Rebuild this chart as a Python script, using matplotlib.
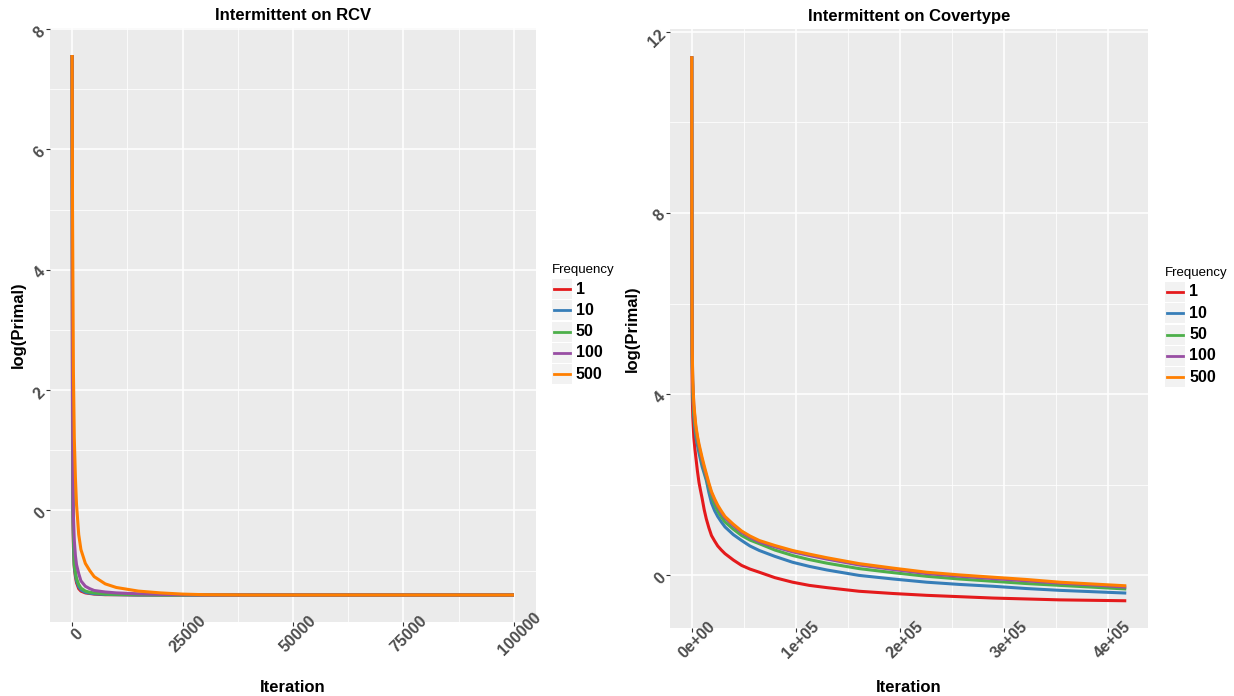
import matplotlib
matplotlib.use("Agg")
import matplotlib.pyplot as plt
from matplotlib.patches import Rectangle
from matplotlib.lines import Line2D
import numpy as np

plt.rcParams['font.family'] = ['Liberation Sans', 'DejaVu Sans']

W, H = 1234, 696

freqs = ['1', '10', '50', '100', '500']
colors = ['#E41A1C', '#377EB8', '#4DAF4A', '#984EA3', '#FF7F00']

# ---- RCV panel ----
rcv_iter = [0, 100, 200, 300, 500, 750, 1000, 1500, 2000, 3000, 4000, 5000,
            7500, 10000, 15000, 20000, 25000, 30000, 40000, 50000, 75000, 100000]
rcv_f1 = [7.57, 1.0, -0.2, -0.6, -0.95, -1.1, -1.2, -1.3, -1.34, -1.37, -1.38, -1.39,
          -1.40, -1.40, -1.405, -1.405, -1.405, -1.405, -1.405, -1.405, -1.405, -1.405]
rcv_f10 = [7.57, 1.3, 0.0, -0.5, -0.92, -1.07, -1.17, -1.27, -1.32, -1.36, -1.375, -1.385,
           -1.395, -1.40, -1.405, -1.405, -1.405, -1.405, -1.405, -1.405, -1.405, -1.405]
rcv_f50 = [7.57, 1.5, 0.15, -0.4, -0.9, -1.03, -1.13, -1.23, -1.29, -1.34, -1.36, -1.37,
           -1.39, -1.395, -1.40, -1.405, -1.405, -1.405, -1.405, -1.405, -1.405, -1.405]
rcv_f100 = [7.57, 1.8, 0.3, -0.1, -0.5, -0.75, -0.9, -1.05, -1.17, -1.26, -1.30, -1.33,
            -1.355, -1.37, -1.385, -1.395, -1.40, -1.405, -1.405, -1.405, -1.405, -1.405]
rcv_f500 = [7.57, 5.0, 3.6, 2.3, 1.2, 0.55, 0.1, -0.4, -0.65, -0.88, -1.0, -1.1,
            -1.22, -1.28, -1.34, -1.37, -1.39, -1.40, -1.405, -1.405, -1.405, -1.405]

# ---- Covertype panel ----
cov_iter = [0, 100, 250, 500, 1000, 2000, 3000, 4000, 5500, 7000, 8500, 10000, 12000,
            14000, 16500, 19000, 22000, 25000, 28500, 32000, 40000, 48000, 56000, 65000,
            80000, 97000, 113000, 130000, 161000, 194000, 226000, 258000, 290000, 322000,
            354000, 386000, 418000]
cov_f1 = [11.46, 7.5, 5.0, 4.0, 3.5, 3.05, 2.8, 2.6, 2.3, 2.05, 1.87, 1.7, 1.45,
          1.25, 1.05, 0.88, 0.76, 0.65, 0.56, 0.48, 0.34, 0.22, 0.14, 0.07,
          -0.05, -0.15, -0.22, -0.27, -0.35, -0.40, -0.44, -0.47, -0.50, -0.52,
          -0.54, -0.55, -0.56]
cov_f10 = [11.46, 8.0, 5.8, 4.6, 4.0, 3.5, 3.25, 3.05, 2.87, 2.7, 2.55, 2.4, 2.25,
           2.1, 1.83, 1.6, 1.43, 1.3, 1.18, 1.07, 0.9, 0.77, 0.65, 0.55,
           0.42, 0.29, 0.2, 0.12, 0.0, -0.08, -0.15, -0.20, -0.24, -0.29,
           -0.33, -0.36, -0.39]
cov_f50 = [11.46, 8.2, 6.0, 4.8, 4.1, 3.6, 3.35, 3.15, 2.97, 2.8, 2.65, 2.5, 2.32,
           2.15, 1.95, 1.75, 1.57, 1.42, 1.29, 1.18, 1.02, 0.88, 0.78, 0.70,
           0.56, 0.44, 0.35, 0.27, 0.15, 0.06, -0.02, -0.08, -0.13, -0.18,
           -0.22, -0.26, -0.30]
cov_f100 = [11.46, 8.4, 6.1, 4.9, 4.25, 3.75, 3.48, 3.25, 3.03, 2.85, 2.7, 2.55, 2.37,
            2.2, 2.0, 1.82, 1.66, 1.52, 1.38, 1.27, 1.1, 0.95, 0.84, 0.74,
            0.63, 0.52, 0.44, 0.36, 0.23, 0.13, 0.04, -0.02, -0.07, -0.12,
            -0.17, -0.21, -0.26]
cov_f500 = [11.46, 8.5, 6.2, 5.0, 4.3, 3.8, 3.53, 3.3, 3.08, 2.9, 2.75, 2.6, 2.42,
            2.25, 2.04, 1.85, 1.69, 1.55, 1.42, 1.3, 1.13, 0.98, 0.87, 0.77,
            0.66, 0.55, 0.47, 0.39, 0.26, 0.16, 0.07, 0.01, -0.04, -0.09,
            -0.15, -0.19, -0.23]

rcv_xticks = [0, 25000, 50000, 75000, 100000]
rcv_xlabels = ['0', '25000', '50000', '75000', '100000']
rcv_yticks = [0, 2, 4, 6, 8]
cov_xticks = [0, 100000, 200000, 300000, 400000]
cov_xlabels = ['0e+00', '1e+05', '2e+05', '3e+05', '4e+05']
cov_yticks = [0, 4, 8, 12]

fig = plt.figure(figsize=(W / 100, H / 100), dpi=100)


def px_rect(x0, y0, x1, y1):
    return [x0 / W, 1 - y1 / H, (x1 - x0) / W, (y1 - y0) / H]


def style(ax, x, ys, title, xt, xl, yt, xminor, yminor, ylab_x, xlab_y):
    ax.set_facecolor('#EBEBEB')
    for y, c in zip(ys, colors):
        ax.plot(x, y, color=c, lw=2.2, solid_capstyle='butt', solid_joinstyle='round', zorder=3)
    allv = np.concatenate([np.asarray(v) for v in ys])
    xr = max(x) - min(x)
    yr = allv.max() - allv.min()
    ax.set_xlim(min(x) - 0.05 * xr, max(x) + 0.05 * xr)
    ax.set_ylim(allv.min() - 0.05 * yr, allv.max() + 0.05 * yr)
    ax.set_xticks(xt)
    ax.set_xticklabels(xl)
    ax.set_yticks(yt)
    ax.set_yticklabels([str(v) for v in yt])
    ax.set_xticks(xminor, minor=True)
    ax.set_yticks(yminor, minor=True)
    ax.grid(True, which='major', color='white', lw=1.1, zorder=1)
    ax.grid(True, which='minor', color='white', lw=0.55, zorder=1)
    ax.set_axisbelow(True)
    for s in ax.spines.values():
        s.set_visible(False)
    ax.tick_params(which='major', length=3, width=0.8, color='#333333', pad=2,
                   labelsize=11.5, labelcolor='#4D4D4D')
    ax.tick_params(which='minor', length=0)
    for lab in ax.get_xticklabels():
        lab.set_rotation(45)
        lab.set_rotation_mode('anchor')
        lab.set_ha('center')
        lab.set_va('top')
        lab.set_fontweight('bold')
    for lab in ax.get_yticklabels():
        lab.set_rotation(45)
        lab.set_rotation_mode('anchor')
        lab.set_ha('right')
        lab.set_va('center')
        lab.set_fontweight('bold')
    ax.set_title(title, fontsize=12, fontweight='bold', pad=6)
    ax.set_ylabel('log(Primal)', fontsize=12, fontweight='bold')
    ax.set_xlabel('Iteration', fontsize=12, fontweight='bold')
    ax.yaxis.set_label_coords(ylab_x, 0.5)
    ax.xaxis.set_label_coords(0.5, xlab_y)
    ax.xaxis.label.set_va('center')
    ax.yaxis.label.set_va('center')


def legend(x0, ytitle, ybox):
    fig.text(x0 / W, 1 - ytitle / H, 'Frequency', fontsize=9.5, ha='left', va='center')
    for i, (f, c) in enumerate(zip(freqs, colors)):
        top = ybox + i * 21.3
        fig.patches.append(Rectangle((x0 / W, 1 - (top + 20) / H), 20 / W, 20 / H,
                                     transform=fig.transFigure, facecolor='#F2F2F2',
                                     edgecolor='none'))
        cy = 1 - (top + 10) / H
        fig.lines.append(Line2D([(x0 + 2) / W, (x0 + 18) / W], [cy, cy], color=c, lw=2.0,
                                transform=fig.transFigure))
        fig.text((x0 + 24) / W, cy, f, fontsize=11.5, fontweight='bold', ha='left', va='center')


ax1 = fig.add_axes(px_rect(50, 28, 536, 622))
style(ax1, rcv_iter, [rcv_f1, rcv_f10, rcv_f50, rcv_f100, rcv_f500], 'Intermittent on RCV',
      rcv_xticks, rcv_xlabels, rcv_yticks, [12500, 37500, 62500, 87500], [-1, 1, 3, 5, 7],
      -0.066, -0.111)

ax2 = fig.add_axes(px_rect(670, 29, 1148, 628))
style(ax2, cov_iter, [cov_f1, cov_f10, cov_f50, cov_f100, cov_f500], 'Intermittent on Covertype',
      cov_xticks, cov_xlabels, cov_yticks, [50000, 150000, 250000, 350000], [2, 6, 10],
      -0.0795, -0.1)

legend(552, 270, 279)
legend(1165, 273, 282)

fig.savefig('out.png', dpi=100)
